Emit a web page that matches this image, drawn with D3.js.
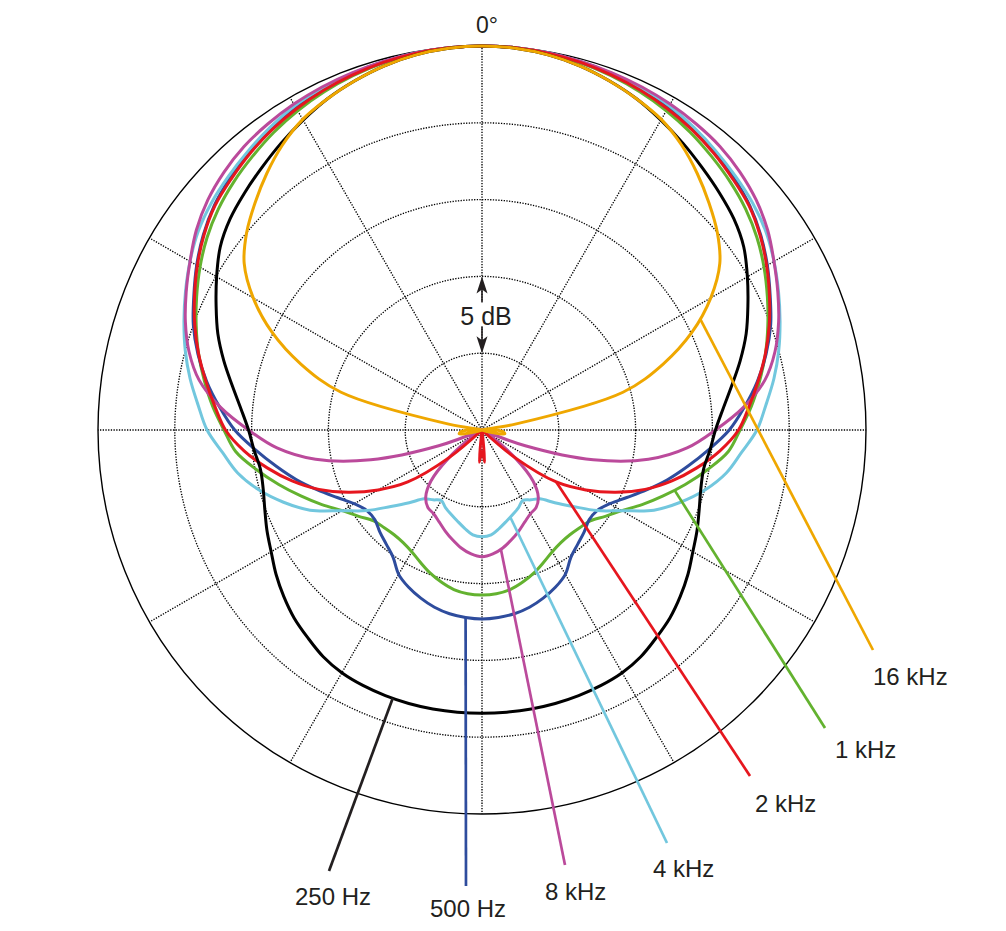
<!DOCTYPE html>
<html><head><meta charset="utf-8">
<script src="https://cdn.jsdelivr.net/npm/d3@7"></script>
<style>body{margin:0;background:#fff;} svg{display:block;}</style>
</head><body><svg id="chart" width="1006" height="931"></svg>
<script>
// ---- data (dB, angle 0..180 deg, mirrored for 180..360) ----
const ANGLES = [0,5,10,15,20,25,30,35,40,45,50,55,60,65,70,75,80,85,90,95,100,105,110,115,120,125,130,135,140,145,150,155,160,165,170,175,180];
const SERIES = ["1 kHz","500 Hz","4 kHz","8 kHz","2 kHz","250 Hz","16 kHz"];
const DB_250HZ = [0,-0.05,-0.2,-0.45,-0.8,-1.2,-1.7,-2.2,-2.7,-3.15,-3.6,-4.2,-5.05,-5.9,-6.7,-7.6,-8.5,-9.25,-9.8,-10.1,-10.35,-10.25,-9.95,-9.55,-9.15,-8.63,-8.15,-7.7,-7.35,-6.98,-6.75,-6.65,-6.6,-6.57,-6.56,-6.56,-6.56];
const DB_500HZ = [0,-0.02,-0.08,-0.18,-0.32,-0.5,-0.72,-1.0,-1.4,-1.8,-2.25,-2.85,-3.55,-4.3,-5.0,-5.85,-6.8,-7.85,-8.9,-10.2,-11.4,-12.5,-13.6,-14.6,-15.4,-15.85,-15.9,-15.6,-15.3,-14.9,-14.15,-13.7,-13.35,-13.05,-12.85,-12.75,-12.7];
const DB_1KHZ = [0,-0.02,-0.1,-0.25,-0.45,-0.7,-1.0,-1.35,-1.75,-2.15,-2.6,-3.15,-3.8,-4.5,-5.2,-5.9,-6.65,-7.4,-8.2,-8.9,-10.1,-11.3,-12.45,-13.5,-14.5,-15.2,-15.8,-16.0,-16.1,-16.05,-15.85,-15.5,-15.1,-14.75,-14.45,-14.3,-14.26];
const DB_2KHZ = [0,-0.02,-0.1,-0.22,-0.4,-0.6,-0.85,-1.15,-1.5,-1.9,-2.3,-2.9,-3.6,-4.35,-5.1,-5.9,-6.75,-7.55,-8.3,-9.45,-10.8,-12.2,-13.7,-15.4,-17.2,-19.1,-22.2,-25,-25,-25,-25,-25,-25,-25,-25,-22.9,-23.6];
const DB_4KHZ = [0,-0.02,-0.08,-0.18,-0.3,-0.45,-0.62,-0.95,-1.3,-1.65,-2.0,-2.45,-3.05,-3.7,-4.35,-5.0,-5.7,-6.45,-7.1,-8.05,-8.85,-9.95,-11.25,-12.65,-14.5,-15.85,-17.25,-18.3,-19.15,-19.45,-19.7,-19.4,-19.15,-18.85,-18.5,-18.15,-18.05];
const DB_8KHZ = [0,-0.02,-0.07,-0.15,-0.25,-0.36,-0.5,-0.68,-0.9,-1.25,-1.7,-2.3,-3.05,-3.75,-4.45,-5.25,-6.3,-7.9,-9.8,-11.6,-14.0,-17.5,-22.0,-25,-25,-24.2,-22.2,-20.3,-19.3,-18.85,-18.7,-18.4,-18.0,-17.6,-17.2,-16.9,-16.75];
const DB_16KHZ = [0,-0.05,-0.2,-0.45,-0.8,-1.2,-1.65,-2.35,-3.2,-4.1,-5.0,-6.1,-7.8,-9.9,-12.45,-15.5,-22.8,-25,-24.2,-23.6,-23.5,-24.5,-25,-25,-25,-25,-25,-25,-25,-25,-25,-25,-25,-25,-25,-25,-25];
const SERIES_VALUES = [DB_1KHZ, DB_500HZ, DB_4KHZ, DB_8KHZ, DB_2KHZ, DB_250HZ, DB_16KHZ];
const SERIES_COLORS = ["#63b22f","#2e4c9d","#72c7de","#bb4a9b","#e6161e","#000000","#efa700"];
const RING_TICKS = [-20,-15,-10,-5];
const SPOKE_ANGLES = [0,30,60,90,120,150,180,210,240,270,300,330];
const ZERO_LABEL = "0°";
const STEP_LABEL = "5 dB";
// label callouts: series, angle on curve (deg)
const LABEL_SERIES = ["16 kHz","1 kHz","2 kHz","4 kHz","8 kHz","500 Hz","250 Hz"];
const LABEL_ANGLES = [63, 107.4, 125, 162, 171, 185, 198.4];

// ---- layout ----
const cx = 482, cy = 430, R = 384;
const LABEL_LAYOUT = {
  "16 kHz": {end:[873,650], text:[873,685]},
  "1 kHz":  {end:[825,728], text:[835,758]},
  "2 kHz":  {end:[750,776], text:[755,812]},
  "4 kHz":  {end:[667,843], text:[653,877]},
  "8 kHz":  {end:[565,865], text:[545,900]},
  "500 Hz": {end:[466,886], text:[430,917]},
  "250 Hz": {end:[329,871], text:[295,905]}
};

const svg = d3.select("#chart");
const g = svg.append("g").attr("transform", `translate(${cx},${cy})`);
const r = d3.scaleLinear().domain([-25, 0]).range([0, R]).clamp(true);
const a = d3.scaleLinear().domain([0, 360]).range([0, 2 * Math.PI]);

function fullPoints(vals) {
  const pts = [];
  ANGLES.forEach((ang, i) => pts.push({a: ang, v: vals[i]}));
  for (let i = ANGLES.length - 2; i > 0; i--) pts.push({a: 360 - ANGLES[i], v: vals[i]});
  return pts;
}
function valueAt(vals, ang) {
  let t = ang > 180 ? 360 - ang : ang;
  const i = Math.min(ANGLES.length - 2, Math.floor(t / 5));
  const f = (t - ANGLES[i]) / (ANGLES[i + 1] - ANGLES[i]);
  return vals[i] + f * (vals[i + 1] - vals[i]);
}
function xy(ang, v) {
  const th = a(ang), rr = r(v);
  return [rr * Math.sin(th), -rr * Math.cos(th)];
}

// grid
g.selectAll("circle.ring").data(RING_TICKS).join("circle")
  .attr("class", "ring").attr("r", d => r(d))
  .attr("fill", "none").attr("stroke", "#000")
  .attr("stroke-width", 1.35).attr("stroke-dasharray", "1.3 1.4");
g.selectAll("line.spoke").data(SPOKE_ANGLES).join("line")
  .attr("class", "spoke")
  .attr("x1", 0).attr("y1", 0)
  .attr("x2", d => xy(d, 0)[0]).attr("y2", d => xy(d, 0)[1])
  .attr("stroke", "#000").attr("stroke-width", 1.35).attr("stroke-dasharray", "1.3 1.4");
g.append("circle").attr("r", r(0)).attr("fill", "none").attr("stroke", "#000").attr("stroke-width", 1.4);

// 5 dB arrow
const yTop = -r(-15), yBot = -r(-20);
g.append("line").attr("x1", 0).attr("x2", 0).attr("y1", yTop + 6).attr("y2", yBot - 6)
  .attr("stroke", "#231f20").attr("stroke-width", 1.6);
g.append("path").attr("d", `M0,${yTop} L5.5,${yTop + 17} L0,${yTop + 13} L-5.5,${yTop + 17} Z`).attr("fill", "#231f20");
g.append("path").attr("d", `M0,${yBot} L5.5,${yBot - 17} L0,${yBot - 13} L-5.5,${yBot - 17} Z`).attr("fill", "#231f20");
g.append("rect").attr("x", -8).attr("y", yTop + 26).attr("width", 16).attr("height", 24).attr("fill", "#fff");
g.append("text").attr("x", 4).attr("y", yTop + 49).attr("text-anchor", "middle")
  .attr("font-family", "Liberation Sans, Arial, sans-serif").attr("font-size", 25).attr("fill", "#231f20")
  .text(STEP_LABEL);

// 0° label
svg.append("text").attr("x", cx - 6).attr("y", 33)
  .attr("font-family", "Liberation Sans, Arial, sans-serif").attr("font-size", 23).attr("fill", "#231f20")
  .text(ZERO_LABEL);

// curves
const line = d3.lineRadial().angle(d => a(d.a)).radius(d => r(d.v))
  .curve(d3.curveCatmullRomClosed.alpha(0.5));
SERIES.forEach((name, i) => {
  g.append("path").attr("d", line(fullPoints(SERIES_VALUES[i])))
    .attr("fill", "none").attr("stroke", SERIES_COLORS[i]).attr("stroke-width", 3)
    .attr("stroke-linejoin", "round");
});

// callouts
LABEL_SERIES.forEach((name, k) => {
  const i = SERIES.indexOf(name);
  const vals = SERIES_VALUES[i];
  const p = xy(LABEL_ANGLES[k], valueAt(vals, LABEL_ANGLES[k]));
  const L = LABEL_LAYOUT[name];
  const col = SERIES_COLORS[i] === "#000000" ? "#231f20" : SERIES_COLORS[i];
  svg.append("line").attr("x1", cx + p[0]).attr("y1", cy + p[1])
    .attr("x2", L.end[0]).attr("y2", L.end[1])
    .attr("stroke", col).attr("stroke-width", 2.7);
  svg.append("text").attr("x", L.text[0]).attr("y", L.text[1])
    .attr("font-family", "Liberation Sans, Arial, sans-serif").attr("font-size", 24).attr("fill", "#231f20")
    .text(name);
});
</script></body></html>
